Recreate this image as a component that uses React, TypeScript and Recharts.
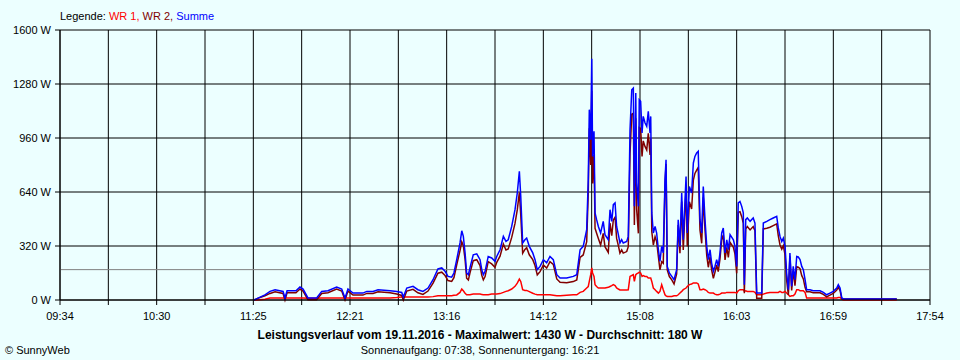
import React from "react";
import {
  LineChart,
  Line,
  XAxis,
  YAxis,
  CartesianGrid,
  ReferenceLine,
} from "recharts";

// time of day in minutes since midnight
const minutes = [
  685.5, 687.2, 691.8, 694.7, 697.6, 702.2, 703.3, 704.5, 709.6, 711.9,
  713.7, 716.5, 721.5, 724.4, 728.0, 733.0, 735.9, 737.8, 739.5, 742.4,
  748.1, 750.3, 753.9, 756.8, 763.7, 767.5, 770.4, 771.3, 773.3, 776.9,
  779.7, 782.6, 785.5, 788.4, 791.2, 793.4, 795.3, 797.0, 799.1, 800.4,
  802.0, 803.9, 804.9, 805.8, 806.8, 807.7, 808.7, 809.6, 811.5, 813.5,
  815.4, 816.4, 817.3, 818.3, 820.1, 822.1, 824.0, 825.0, 826.9, 828.8,
  830.3, 831.6, 833.6, 835.5, 836.8, 838.0, 838.8, 839.9, 841.2, 842.2,
  843.7, 845.7, 847.0, 848.3, 849.9, 851.8, 853.7, 855.6, 857.5, 859.5,
  861.4, 865.2, 869.0, 871.0, 872.9, 874.7, 876.7, 877.6, 878.2, 879.0,
  879.6, 880.1, 880.9, 881.5, 882.4, 883.4, 884.7, 886.2, 887.2, 889.1,
  890.1, 891.1, 892.0, 893.0, 893.9, 894.9, 895.8, 896.8, 897.7, 899.7,
  900.6, 901.6, 902.6, 903.5, 904.1, 904.9, 905.4, 906.4, 906.9, 907.7,
  908.5, 909.2, 910.2, 911.2, 912.1, 913.1, 913.5, 914.1, 915.0, 916.0,
  916.9, 917.9, 918.8, 919.8, 920.7, 921.7, 922.3, 923.0, 924.2, 925.6,
  926.9, 928.4, 929.3, 930.3, 931.3, 932.2, 933.8, 934.5, 935.7, 937.0,
  938.0, 938.9, 939.9, 940.8, 941.8, 942.8, 943.7, 944.7, 945.7, 946.6,
  947.6, 948.5, 949.5, 950.4, 951.4, 952.3, 953.3, 954.3, 955.2, 956.2,
  957.2, 958.1, 959.1, 961.0, 961.9, 962.9, 963.8, 964.8, 965.8, 966.7,
  967.3, 968.1, 969.0, 970.6, 972.4, 973.4, 974.4, 977.3, 978.2, 980.2,
  982.0, 983.9, 985.9, 986.8, 987.8, 988.8, 989.7, 990.7, 991.6, 992.6,
  993.5, 994.5, 995.4, 996.4, 997.4, 998.3, 999.3, 1000.3, 1001.2, 1002.2,
  1003.1, 1005.0, 1006.9, 1010.8, 1012.7, 1014.6, 1016.5, 1018.4, 1020.4, 1021.3,
  1022.3, 1023.3, 1024.2, 1054.9,
];

const summe = [
  0, 8, 30, 51, 61, 51, 12, 55, 55, 77,
  65, 12, 12, 51, 55, 77, 65, 12, 65, 41,
  41, 51, 51, 61, 55, 51, 45, 18, 71, 81,
  61, 51, 71, 120, 184, 190, 170, 140, 135, 160,
  239, 338, 410, 377, 280, 160, 150, 190, 268, 274,
  239, 180, 150, 170, 258, 249, 229, 258, 298, 377,
  347, 357, 436, 535, 634, 762, 614, 338, 357, 367,
  318, 279, 239, 180, 199, 239, 220, 258, 239, 150,
  130, 130, 140, 150, 298, 318, 417, 713, 1128, 950,
  1430, 851, 1000, 516, 476, 436, 397, 466, 387, 357,
  535, 466, 565, 575, 436, 387, 338, 357, 338, 347,
  377, 1009, 1246, 1256, 555, 1227, 693, 555, 1187, 1177,
  990, 1088, 1050, 1029, 1118, 990, 1088, 516, 397, 436,
  397, 298, 229, 318, 279, 713, 831, 199, 160, 140,
  120, 180, 476, 318, 634, 357, 732, 397, 673, 634,
  812, 851, 871, 881, 476, 397, 673, 476, 318, 239,
  298, 219, 170, 199, 239, 199, 279, 397, 427, 279,
  357, 298, 387, 357, 318, 199, 575, 584, 555, 516,
  91, 476, 486, 466, 486, 456, 41, 41, 456, 466,
  476, 486, 496, 427, 377, 347, 367, 318, 160, 61,
  279, 81, 200, 120, 258, 255, 240, 199, 180, 120,
  61, 61, 55, 55, 45, 31, 41, 51, 71, 91,
  71, 12, 6, 6,
];

const wr1 = [
  0, 0, 5, 12, 12, 12, 12, 12, 12, 12,
  12, 10, 10, 12, 12, 12, 12, 12, 12, 12,
  12, 12, 12, 12, 12, 15, 18, 18, 18, 18,
  18, 18, 18, 20, 25, 25, 25, 25, 25, 28,
  30, 45, 65, 55, 40, 31, 31, 31, 35, 35,
  35, 33, 31, 31, 31, 35, 35, 35, 38, 45,
  51, 55, 65, 81, 100, 124, 110, 61, 57, 57,
  50, 40, 35, 31, 31, 31, 31, 31, 28, 25,
  25, 28, 31, 31, 45, 51, 71, 80, 110, 150,
  190, 160, 140, 91, 80, 71, 71, 71, 71, 75,
  80, 85, 91, 85, 71, 65, 60, 60, 60, 60,
  61, 140, 145, 150, 110, 150, 155, 160, 165, 160,
  140, 145, 140, 140, 130, 130, 130, 110, 71, 61,
  51, 41, 51, 91, 61, 31, 25, 21, 21, 21,
  25, 25, 31, 41, 51, 61, 71, 80, 91, 95,
  101, 101, 101, 95, 61, 61, 65, 61, 55, 45,
  41, 41, 41, 35, 31, 31, 35, 41, 41, 41,
  45, 45, 45, 45, 45, 41, 55, 61, 61, 61,
  51, 55, 51, 51, 51, 45, 31, 31, 35, 41,
  45, 45, 45, 45, 51, 45, 45, 51, 41, 31,
  21, 25, 25, 35, 61, 61, 55, 55, 55, 45,
  12, 12, 12, 12, 12, 12, 12, 12, 12, 15,
  15, 5, 0, 0,
];

const wr2 = [
  0, 8, 25, 39, 49, 39, 0, 43, 43, 65,
  53, 2, 2, 39, 43, 65, 53, 0, 53, 29,
  29, 39, 39, 49, 43, 36, 27, 0, 53, 63,
  43, 33, 53, 100, 159, 165, 145, 115, 110, 132,
  209, 293, 345, 322, 240, 129, 119, 159, 233, 239,
  204, 147, 119, 139, 227, 214, 194, 223, 260, 332,
  296, 302, 371, 454, 534, 638, 504, 277, 300, 310,
  268, 239, 204, 149, 168, 208, 189, 227, 211, 125,
  105, 102, 109, 119, 253, 267, 346, 633, 1018, 800,
  1240, 691, 860, 425, 396, 365, 326, 395, 316, 282,
  455, 381, 474, 490, 365, 322, 278, 297, 278, 287,
  316, 869, 1101, 1106, 445, 1077, 538, 395, 1022, 1017,
  850, 943, 910, 889, 988, 860, 958, 406, 326, 375,
  346, 257, 178, 227, 218, 682, 806, 178, 139, 119,
  95, 155, 445, 277, 583, 296, 661, 317, 582, 539,
  711, 750, 770, 786, 415, 336, 608, 415, 263, 194,
  257, 178, 129, 164, 208, 168, 244, 356, 386, 238,
  312, 253, 342, 312, 273, 158, 520, 523, 494, 455,
  40, 421, 435, 415, 435, 411, 10, 10, 421, 425,
  431, 441, 451, 382, 326, 302, 322, 267, 119, 30,
  258, 56, 175, 85, 197, 194, 185, 144, 125, 75,
  49, 49, 43, 43, 33, 19, 29, 39, 59, 76,
  56, 7, 6, 6,
];

const xLabels = ["09:34", "10:30", "11:25", "12:21", "13:16", "14:12", "15:08", "16:03", "16:59", "17:54"];
const yTicks = [0, 320, 640, 960, 1280, 1600];
const average = 180;

const xStart = 574;
const xEnd = 1074;
const xTicks = Array.from({ length: 19 }, (_, i) => xStart + (i * (xEnd - xStart)) / 18);

const data = minutes.map((t, i) => ({ t, wr1: wr1[i], wr2: wr2[i], summe: summe[i] }));

const font = "'Liberation Sans', Arial, sans-serif";

export default function App() {
  return (
    <div
      style={{
        position: "absolute",
        left: 0,
        top: 0,
        width: 960,
        height: 360,
        background: "#ECFFFF",
        fontFamily: font,
        fontSize: 11,
        color: "#000",
      }}
    >
      <div style={{ position: "absolute", left: 60, top: 10, whiteSpace: "pre" }}>
        Legende: <span style={{ color: "#FF0000" }}>WR 1,</span>{" "}
        <span style={{ color: "#800000" }}>WR 2,</span>{" "}
        <span style={{ color: "#0000FF" }}>Summe</span>
      </div>
      <LineChart
        width={960}
        height={360}
        data={data}
        margin={{ top: 30, right: 30, left: 0, bottom: 30 }}
      >
        <CartesianGrid stroke="#000" strokeWidth={1} />
        <XAxis
          dataKey="t"
          type="number"
          domain={[xStart, xEnd]}
          ticks={xTicks}
          interval={0}
          height={30}
          axisLine={{ stroke: "#000" }}
          tickLine={{ stroke: "#000" }}
          tickSize={5}
          tickMargin={7}
          tick={{ fill: "#000", fontSize: 11, fontFamily: font }}
          tickFormatter={(v: number, i: number) => (i % 2 === 0 ? xLabels[i / 2] : "")}
        />
        <YAxis
          type="number"
          domain={[0, 1600]}
          ticks={yTicks}
          interval={0}
          width={60}
          axisLine={{ stroke: "#000" }}
          tickLine={{ stroke: "#000" }}
          tickSize={5}
          tickMargin={4}
          tick={{ fill: "#000", fontSize: 11, fontFamily: font }}
          tickFormatter={(v: number) => `${v} W`}
        />
        <ReferenceLine y={average} stroke="#808080" strokeWidth={1} />
        <Line
          type="linear"
          dataKey="wr1"
          stroke="#FF0000"
          strokeWidth={1.5}
          dot={false}
          isAnimationActive={false}
        />
        <Line
          type="linear"
          dataKey="wr2"
          stroke="#800000"
          strokeWidth={1.5}
          dot={false}
          isAnimationActive={false}
        />
        <Line
          type="linear"
          dataKey="summe"
          stroke="#0000FF"
          strokeWidth={1.5}
          dot={false}
          isAnimationActive={false}
        />
      </LineChart>
      <div
        style={{
          position: "absolute",
          left: 0,
          width: 960,
          top: 329,
          lineHeight: "13px",
          textAlign: "center",
          fontWeight: "bold",
          fontSize: 12,
        }}
      >
        Leistungsverlauf vom 19.11.2016 - Maximalwert: 1430 W - Durchschnitt: 180 W
      </div>
      <div
        style={{
          position: "absolute",
          left: 0,
          width: 960,
          top: 344,
          lineHeight: "12px",
          textAlign: "center",
        }}
      >
        Sonnenaufgang: 07:38, Sonnenuntergang: 16:21
      </div>
      <div style={{ position: "absolute", left: 5, top: 344, lineHeight: "12px" }}>© SunnyWeb</div>
    </div>
  );
}
